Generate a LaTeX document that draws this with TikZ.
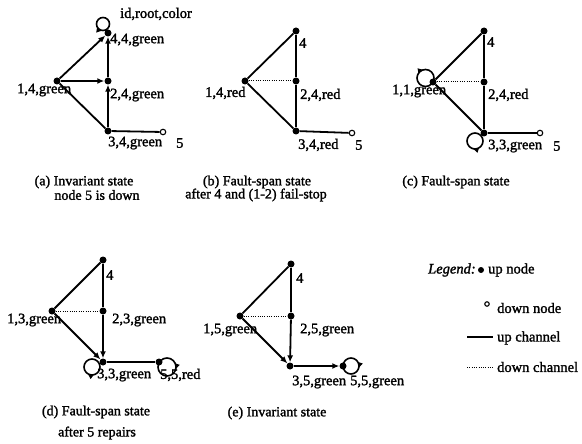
\documentclass[tikz,border=0pt]{standalone}
\usepackage{fontspec}
\setmainfont{Liberation Serif}[FakeBold=1.6]
\usetikzlibrary{arrows.meta,decorations.markings}
\newcommand{\lblfont}{\fontsize{14.5}{15}\selectfont}
\newcommand{\capfont}{\fontsize{14}{13}\selectfont}
\tikzset{
  dot/.style={circle, fill=black, inner sep=0pt, minimum size=7pt},
  downdot/.style={circle, draw=black, fill=white, line width=1.1pt, inner sep=0pt, minimum size=5.5pt},
  upch/.style={line width=1.8pt},
  downch/.style={line width=1pt, dash pattern=on 1pt off 1.3pt},
  tip/.style={-{Latex[length=7pt,width=6pt]}},
  lbl/.style={anchor=west, inner sep=0pt, font=\lblfont},
  captext/.style={inner sep=0pt, font=\capfont},
  selfloop/.style={line width=1.6pt, postaction={decorate}, decoration={markings,
      mark=at position #1 with {\arrow{Latex[length=6pt,width=5.5pt]}}}}
}
\begin{document}
\begin{tikzpicture}[x=1pt,y=-1pt]
\useasboundingbox (0,0) rectangle (582,444);

% ---------- (a) invariant state, node 5 down ----------
\node[dot] (a4) at (108,33) {};
\node[dot] (a1) at (57,81) {};
\node[dot] (a2) at (108,81) {};
\node[dot] (a3) at (108,131) {};
\node[downdot] (a5) at (163,132) {};
\draw[upch,tip] (a1) -- (a4);
\draw[upch,tip] (a1) -- (a2);
\draw[upch,tip] (a2) -- (a4);
\draw[upch,tip] (a3) -- (a2);
\draw[upch] (a1) -- (a3);
\draw[upch] (a3) -- (a5);
\draw[selfloop=0.45] ([shift={(-5,-9)}]a4.center) circle[radius=6.5];
\node[lbl] at (120,14) {id,root,color};
\node[lbl] at (110,40) {4,4,green};
\node[lbl] at (17,90) {1,4,green};
\node[lbl] at (110,95) {2,4,green};
\node[lbl] at (108,143) {3,4,green};
\node[lbl] at (176,143) {5};
\node[captext] at (84,182) {(a) Invariant state};
\node[captext] at (97,195) {node 5 is down};

% ---------- (b) after 4 and (1-2) fail-stop ----------
\node[dot] (b4) at (296,31) {};
\node[dot] (b1) at (245,81) {};
\node[dot] (b2) at (296,81) {};
\node[dot] (b3) at (296,131) {};
\node[downdot] (b5) at (352,133) {};
\draw[upch] (b1) -- (b4);
\draw[downch] (b1) -- (b2);
\draw[upch] (b4) -- (b2) -- (b3);
\draw[upch] (b1) -- (b3);
\draw[upch] (b3) -- (b5);
\node[lbl] at (299,43) {4};
\node[lbl] at (205,93) {1,4,red};
\node[lbl] at (300,95) {2,4,red};
\node[lbl] at (298,145) {3,4,red};
\node[lbl] at (355,145) {5};
\node[captext] at (257,182) {(b) Fault-span state};
\node[captext] at (256,195) {after 4 and (1-2) fail-stop};

% ---------- (c) fault-span state ----------
\node[dot] (c4) at (484,31) {};
\node[dot] (c1) at (433,82) {};
\node[dot] (c2) at (484,82) {};
\node[dot] (c3) at (484,133) {};
\node[downdot] (c5) at (540,133) {};
\draw[upch] (c1) -- (c4);
\draw[downch] (c1) -- (c2);
\draw[upch] (c4) -- (c2) -- (c3);
\draw[upch] (c1) -- (c3);
\draw[upch] (c3) -- (c5);
\draw[selfloop=0.72] ([shift={(-7.5,-4)}]c1.center) circle[radius=8.5];
\draw[selfloop=0.3] ([shift={(-9,8)}]c3.center) circle[radius=8];
\node[lbl] at (487,42) {4};
\node[lbl] at (392,91) {1,1,green};
\node[lbl] at (488,95) {2,4,red};
\node[lbl] at (488,146) {3,3,green};
\node[lbl] at (553,146) {5};
\node[captext] at (456,182) {(c) Fault-span state};

% ---------- (d) after 5 repairs ----------
\node[dot] (d4) at (103,260) {};
\node[dot] (d1) at (52,311) {};
\node[dot] (d2) at (103,311) {};
\node[dot] (d3) at (103,362) {};
\node[dot] (d5) at (159,362) {};
\draw[upch] (d1) -- (d4);
\draw[downch] (d1) -- (d2);
\draw[upch] (d4) -- (d2);
\draw[upch,tip] (d2) -- (d3);
\draw[upch,tip] (d1) -- (d3);
\draw[upch] (d3) -- (d5);
\draw[selfloop=0.35] ([shift={(-11,5)}]d3.center) circle[radius=8];
\draw[selfloop=0.05] ([shift={(8,5)}]d5.center) circle[radius=9];
\node[lbl] at (106,275) {4};
\node[lbl] at (7,320) {1,3,green};
\node[lbl] at (112,320) {2,3,green};
\node[lbl] at (97,375) {3,3,green};
\node[lbl] at (160,375) {5,5,red};
\node[captext] at (96,412) {(d) Fault-span state};
\node[captext] at (97,433) {after 5 repairs};

% ---------- (e) invariant state ----------
\node[dot] (e4) at (291,264) {};
\node[dot] (e1) at (240,316) {};
\node[dot] (e2) at (291,316) {};
\node[dot] (e3) at (290,366) {};
\node[dot] (e5) at (343,366) {};
\draw[upch] (e1) -- (e4);
\draw[downch] (e1) -- (e2);
\draw[upch] (e4) -- (e2);
\draw[upch,tip] (e2) -- (e3);
\draw[upch,tip] (e1) -- (e3);
\draw[upch,tip] (e3) -- (e5);
\draw[selfloop=0.05] ([shift={(8,0)}]e5.center) circle[radius=8];
\node[lbl] at (296,278) {4};
\node[lbl] at (203,330) {1,5,green};
\node[lbl] at (300,330) {2,5,green};
\node[lbl] at (292,382) {3,5,green};
\node[lbl] at (350,382) {5,5,green};
\node[captext] at (277,413) {(e) Invariant state};

% ---------- legend ----------
\node[lbl] (lg) at (428,270) {\itshape Legend:};
\node[dot, minimum size=6pt] (lgup) at (481,270) {};
\node[lbl] at (488,270) {up node};
\node[downdot, minimum size=4.5pt] (lgdown) at (487,304) {};
\node[lbl] at (497,308) {down node};
\coordinate (lua) at (467,337);
\coordinate (lub) at (493,337);
\draw[upch] (lua) -- (lub);
\node[lbl] at (497,338) {up channel};
\coordinate (lda) at (467,367);
\coordinate (ldb) at (493,367);
\draw[downch] (lda) -- (ldb);
\node[lbl] at (497,367) {down channel};
\end{tikzpicture}
\end{document}
